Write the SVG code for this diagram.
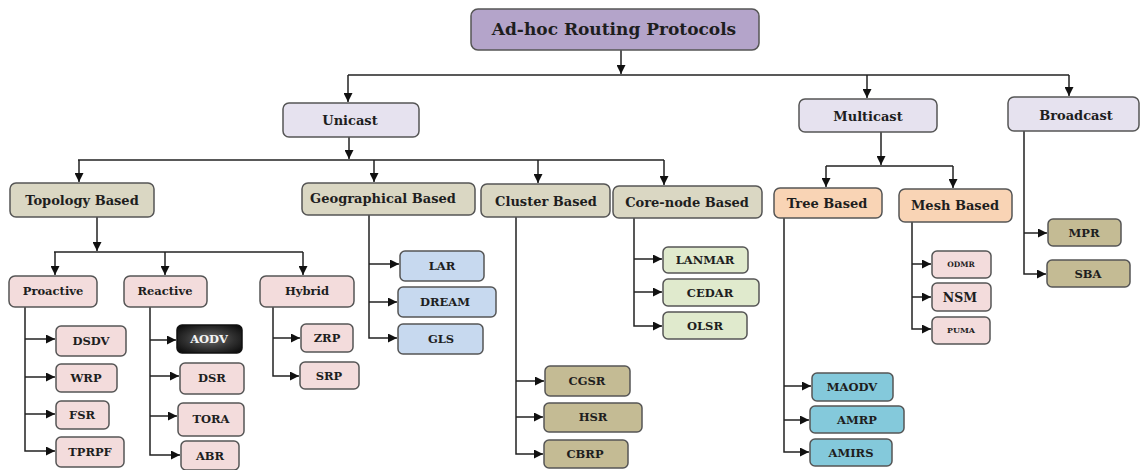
<svg xmlns="http://www.w3.org/2000/svg" width="1140" height="470" viewBox="0 0 1140 470">
<style>
.b{stroke:#555;stroke-width:1.5}
.t{font-family:"DejaVu Serif","Liberation Serif",serif;font-weight:bold;fill:#1e1e1e;text-anchor:middle;dominant-baseline:central}
.c{fill:none;stroke:#222;stroke-width:1.5;marker-end:url(#ah)}
.l{fill:none;stroke:#222;stroke-width:1.5}
.top{fill:#b4a4ca}.lav{fill:#e6e2ef}.cat{fill:#dad7c3}.pch{fill:#f9d4b5}.pnk{fill:#f3dcdc}
.blu{fill:#c7d9ef}.grn{fill:#e0eacd}.kha{fill:#c4bb94}.cya{fill:#84c9db}
.f17{font-size:17px}.f14{font-size:13px}.f12{font-size:11.5px}
</style>
<defs>
<marker id="ah" viewBox="0 0 10 10" refX="10" refY="5" markerWidth="9" markerHeight="9" markerUnits="userSpaceOnUse" orient="auto"><path d="M0,0 L10,5 L0,10 z" fill="#111"/></marker>
<radialGradient id="dark" cx="50%" cy="50%" r="65%"><stop offset="0" stop-color="#6a6a6a"/><stop offset="0.6" stop-color="#2e2e2e"/><stop offset="1" stop-color="#0c0c0c"/></radialGradient>
</defs>
<g id="connectors">
<path class="c" d="M621,50 V74"/>
<path class="l" d="M348,75 H1069"/>
<path class="c" d="M348,75 V102"/>
<path class="c" d="M867,75 V98"/>
<path class="c" d="M1069,75 V96"/>
<path class="c" d="M349,137 V159"/>
<path class="l" d="M78,160 H664"/>
<path class="c" d="M79,160 V182"/>
<path class="c" d="M374,160 V182"/>
<path class="c" d="M538,160 V183"/>
<path class="c" d="M664,160 V185"/>
<path class="c" d="M881,132 V165"/>
<path class="l" d="M826,166 H953"/>
<path class="c" d="M826,166 V187"/>
<path class="c" d="M953,166 V188"/>
<path class="c" d="M1024,131 V274 H1046"/>
<path class="c" d="M1024,233 H1047"/>
<path class="c" d="M97,217 V251"/>
<path class="l" d="M54,252 H303"/>
<path class="c" d="M55,252 V275"/>
<path class="c" d="M165,252 V275"/>
<path class="c" d="M303,252 V275"/>
<path class="c" d="M25,307 V451 H55"/>
<path class="c" d="M25,339 H55"/>
<path class="c" d="M25,377 H55"/>
<path class="c" d="M25,414 H55"/>
<path class="c" d="M150,307 V455 H180"/>
<path class="c" d="M150,340 H176"/>
<path class="c" d="M150,376 H179"/>
<path class="c" d="M150,416 H177"/>
<path class="c" d="M273,307 V376 H299"/>
<path class="c" d="M273,338 H300"/>
<path class="c" d="M369,215 V338 H397"/>
<path class="c" d="M369,264 H399"/>
<path class="c" d="M369,302 H397"/>
<path class="c" d="M516,217 V454 H543"/>
<path class="c" d="M516,381 H544"/>
<path class="c" d="M516,417 H543"/>
<path class="c" d="M634,218 V326 H662"/>
<path class="c" d="M634,259 H662"/>
<path class="c" d="M634,292 H662"/>
<path class="c" d="M784,218 V452 H809"/>
<path class="c" d="M784,386 H811"/>
<path class="c" d="M784,420 H809"/>
<path class="c" d="M912,222 V329 H931"/>
<path class="c" d="M912,264 H931"/>
<path class="c" d="M912,297 H931"/>
</g>
<g id="n-root"><rect class="b top" x="471" y="9" width="288" height="41" rx="7"/><text class="t f17" x="614" y="29">Ad-hoc Routing Protocols</text></g>
<g id="n-unicast"><rect class="b lav" x="283" y="103" width="136" height="34" rx="6"/><text class="t f14" x="350" y="120">Unicast</text></g>
<g id="n-multicast"><rect class="b lav" x="799" y="99" width="138" height="33" rx="6"/><text class="t f14" x="868" y="116">Multicast</text></g>
<g id="n-broadcast"><rect class="b lav" x="1008" y="97" width="131" height="34" rx="6"/><text class="t f14" x="1076" y="115">Broadcast</text></g>
<g id="n-topology"><rect class="b cat" x="10" y="183" width="144" height="34" rx="6"/><text class="t f14" x="82" y="200">Topology Based</text></g>
<g id="n-geo"><rect class="b cat" x="302" y="183" width="173" height="32" rx="6"/><text class="t f14" x="383" y="198">Geographical Based</text></g>
<g id="n-cluster"><rect class="b cat" x="481" y="184" width="129" height="33" rx="6"/><text class="t f14" x="546" y="201">Cluster Based</text></g>
<g id="n-core"><rect class="b cat" x="613" y="186" width="149" height="32" rx="6"/><text class="t f14" x="687" y="202">Core-node Based</text></g>
<g id="n-tree"><rect class="b pch" x="774" y="188" width="108" height="30" rx="6"/><text class="t f14" x="827" y="203">Tree Based</text></g>
<g id="n-mesh"><rect class="b pch" x="899" y="189" width="113" height="33" rx="6"/><text class="t f14" x="955" y="205">Mesh Based</text></g>
<g id="n-proactive"><rect class="b pnk" x="9" y="276" width="88" height="31" rx="6"/><text class="t f12" x="53" y="291">Proactive</text></g>
<g id="n-reactive"><rect class="b pnk" x="124" y="276" width="83" height="31" rx="6"/><text class="t f12" x="165" y="291">Reactive</text></g>
<g id="n-hybrid"><rect class="b pnk" x="260" y="276" width="94" height="31" rx="6"/><text class="t f12" x="307" y="291">Hybrid</text></g>
<g id="n-dsdv"><rect class="b pnk" x="56" y="326" width="70" height="30" rx="5"/><text class="t f12" x="91" y="341">DSDV</text></g>
<g id="n-wrp"><rect class="b pnk" x="56" y="364" width="61" height="28" rx="5"/><text class="t f12" x="86" y="378">WRP</text></g>
<g id="n-fsr"><rect class="b pnk" x="56" y="401" width="53" height="28" rx="5"/><text class="t f12" x="82" y="415">FSR</text></g>
<g id="n-tprpf"><rect class="b pnk" x="56" y="437" width="68" height="30" rx="5"/><text class="t f12" x="90" y="452">TPRPF</text></g>
<g id="n-aodv"><rect x="177" y="325" width="65" height="28" rx="5" fill="url(#dark)" stroke="#111" stroke-width="1.5"/><text class="t f12" x="209" y="339" style="fill:#f4f4f4">AODV</text></g>
<g id="n-dsr"><rect class="b pnk" x="180" y="363" width="64" height="31" rx="5"/><text class="t f12" x="212" y="378">DSR</text></g>
<g id="n-tora"><rect class="b pnk" x="178" y="403" width="66" height="33" rx="5"/><text class="t f12" x="211" y="419">TORA</text></g>
<g id="n-abr"><rect class="b pnk" x="181" y="441" width="58" height="29" rx="5"/><text class="t f12" x="210" y="456">ABR</text></g>
<g id="n-zrp"><rect class="b pnk" x="301" y="324" width="52" height="28" rx="5"/><text class="t f12" x="327" y="338">ZRP</text></g>
<g id="n-srp"><rect class="b pnk" x="300" y="362" width="59" height="27" rx="5"/><text class="t f12" x="329" y="376">SRP</text></g>
<g id="n-lar"><rect class="b blu" x="400" y="251" width="84" height="30" rx="5"/><text class="t f12" x="442" y="266">LAR</text></g>
<g id="n-dream"><rect class="b blu" x="398" y="287" width="98" height="30" rx="5"/><text class="t f12" x="445" y="302">DREAM</text></g>
<g id="n-gls"><rect class="b blu" x="398" y="324" width="85" height="30" rx="5"/><text class="t f12" x="441" y="339">GLS</text></g>
<g id="n-cgsr"><rect class="b kha" x="545" y="366" width="85" height="30" rx="5"/><text class="t f12" x="587" y="381">CGSR</text></g>
<g id="n-hsr"><rect class="b kha" x="544" y="403" width="98" height="29" rx="5"/><text class="t f12" x="593" y="417">HSR</text></g>
<g id="n-cbrp"><rect class="b kha" x="544" y="440" width="84" height="28" rx="5"/><text class="t f12" x="585" y="454">CBRP</text></g>
<g id="n-lanmar"><rect class="b grn" x="663" y="247" width="85" height="26" rx="5"/><text class="t f12" x="705" y="260">LANMAR</text></g>
<g id="n-cedar"><rect class="b grn" x="663" y="279" width="96" height="27" rx="5"/><text class="t f12" x="710" y="293">CEDAR</text></g>
<g id="n-olsr"><rect class="b grn" x="663" y="312" width="84" height="27" rx="5"/><text class="t f12" x="705" y="326">OLSR</text></g>
<g id="n-maodv"><rect class="b cya" x="812" y="373" width="81" height="28" rx="5"/><text class="t f12" x="852" y="387">MAODV</text></g>
<g id="n-amrp"><rect class="b cya" x="810" y="406" width="94" height="27" rx="5"/><text class="t f12" x="857" y="420">AMRP</text></g>
<g id="n-amirs"><rect class="b cya" x="810" y="439" width="82" height="27" rx="5"/><text class="t f12" x="851" y="453">AMIRS</text></g>
<g id="n-odmr"><rect class="b pnk" x="932" y="251" width="59" height="27" rx="5"/><text class="t" style="font-size:7.5px" x="961" y="264">ODMR</text></g>
<g id="n-nsm"><rect class="b pnk" x="932" y="283" width="59" height="28" rx="5"/><text class="t" style="font-size:12.5px" x="960" y="297">NSM</text></g>
<g id="n-puma"><rect class="b pnk" x="932" y="317" width="58" height="27" rx="5"/><text class="t" style="font-size:8px" x="961" y="330">PUMA</text></g>
<g id="n-mpr"><rect class="b kha" x="1048" y="219" width="73" height="27" rx="5"/><text class="t f12" x="1084" y="233">MPR</text></g>
<g id="n-sba"><rect class="b kha" x="1047" y="260" width="83" height="27" rx="5"/><text class="t f12" x="1088" y="274">SBA</text></g>
</svg>
